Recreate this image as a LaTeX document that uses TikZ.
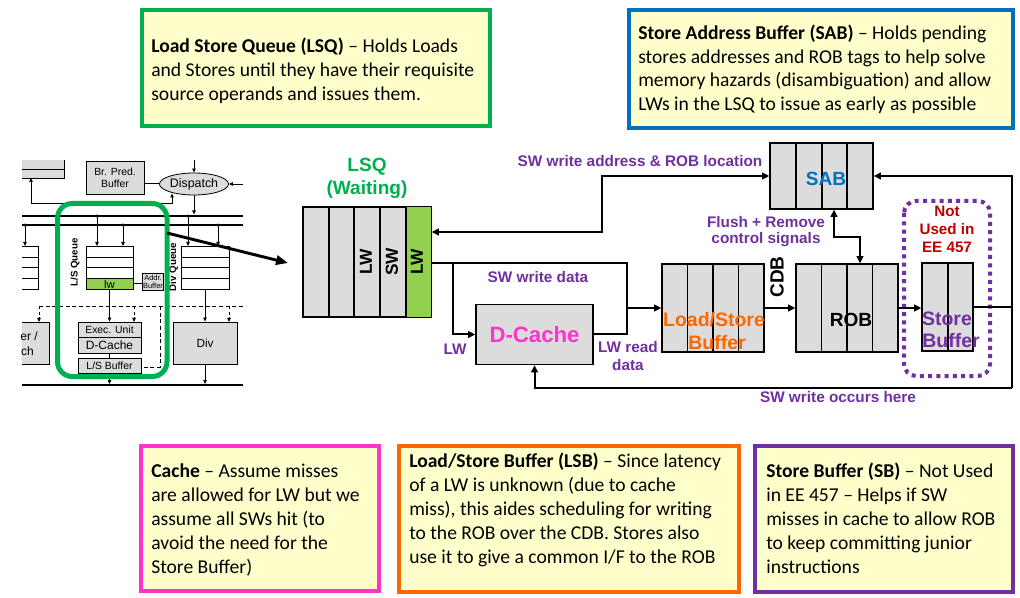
\documentclass[tikz,border=0pt]{standalone}
\usepackage{fontspec}
\setmainfont{Carlito}
\newfontfamily\arial{Liberation Sans}
\usetikzlibrary{arrows.meta,calc,shapes.geometric}
\definecolor{cgreen}{HTML}{00B050}
\definecolor{cblue}{HTML}{0070C0}
\definecolor{cpink}{HTML}{FF33CC}
\definecolor{corange}{HTML}{FF6600}
\definecolor{cpurple}{HTML}{7030A0}
\definecolor{cyel}{HTML}{FFFFCC}
\definecolor{cgray}{HTML}{DCDCDC}
\definecolor{lwgreen}{HTML}{92D050}
\definecolor{cred}{HTML}{C00000}
\begin{document}
\begin{tikzpicture}[x=0.75pt,y=-0.75pt,
 callout/.style={line width=3pt, fill=cyel},
 ctext/.style={anchor=base west, inner sep=0pt, font=\fontsize{14.7}{18}\selectfont},
 blk/.style={draw, line width=0.9pt, fill=cgray, inner sep=0pt},
 divl/.style={line width=0.9pt},
 wire/.style={line width=1.5pt},
 arr/.style={wire, -{Triangle[length=5.5pt,width=5pt]}},
 darr/.style={wire, {Triangle[length=5.5pt,width=5pt]}-{Triangle[length=5.5pt,width=5pt]}},
 lbl/.style={font=\arial\bfseries\fontsize{11.5}{13}\selectfont, text=cpurple, inner sep=0pt},
 big/.style={font=\arial\bfseries\fontsize{14.3}{16}\selectfont, inner sep=0pt},
 reg/.style={font=\arial\bfseries\fontsize{14.6}{17}\selectfont, inner sep=0pt},
 mline/.style={line width=0.6pt},
 mbus/.style={line width=1.6pt},
 marr/.style={mline, -{Triangle[length=3pt,width=2.6pt]}},
 mdarr/.style={mline, {Triangle[length=3pt,width=2.6pt]}-{Triangle[length=3pt,width=2.6pt]}},
 mblk/.style={draw, line width=0.6pt, fill=cgray, inner sep=0pt},
 mq/.style={draw, line width=0.6pt, fill=white, inner sep=0pt},
 mtxt/.style={font=\arial\fontsize{7.8}{9}\selectfont, inner sep=0pt},
]
\useasboundingbox (0,0) rectangle (1020,598);
\fill[white] (0,0) rectangle (1020,598);

% ---------- callouts ----------
\draw[callout, draw=cgreen] (142,10) rectangle (490,126);
\foreach \t [count=\i from 0] in {{\textbf{Load Store Queue (LSQ)} -- Holds Loads},{and Stores until they have their requisite},{source operands and issues them.}}
  \node[ctext] (lsqt\i) at (151,{53+24*\i}) {\t};

\draw[callout, draw=cblue] (629,10) rectangle (1013,128);
\foreach \t [count=\i from 0] in {{\textbf{Store Address Buffer (SAB)} -- Holds pending},{stores addresses and ROB tags to help solve},{memory hazards (disambiguation) and allow},{LWs in the LSQ to issue as early as possible}}
  \node[ctext] (sabt\i) at (638,{40+23.5*\i}) {\t};

\draw[callout, draw=cpink] (141,446) rectangle (379,591);
\foreach \t [count=\i from 0] in {{\textbf{Cache} -- Assume misses},{are allowed for LW but we},{assume all SWs hit (to},{avoid the need for the},{Store Buffer)}}
  \node[ctext] (cat\i) at (151,{477+24*\i}) {\t};

\draw[callout, draw=corange] (399,446) rectangle (739,592);
\foreach \t [count=\i from 0] in {{\textbf{Load/Store Buffer (LSB)} -- Since latency},{of a LW is unknown (due to cache},{miss), this aides scheduling for writing},{to the ROB over the CDB. Stores also},{use it to give a common I/F to the ROB}}
  \node[ctext] (lsbt\i) at (409,{467+24*\i}) {\t};

\draw[callout, draw=cpurple] (755,446) rectangle (1013,592);
\foreach \t [count=\i from 0] in {{\textbf{Store Buffer (SB)} -- Not Used},{in EE 457 -- Helps if SW},{misses in cache to allow ROB},{to keep committing junior},{instructions}}
  \node[ctext] (sbt\i) at (766,{477+24*\i}) {\t};

% ---------- mini diagram ----------
\fill[cgray] (22,160) rectangle (64,178);
\draw[mline] (22,178) -- (64,178) -- (64,160);
\draw[mline] (22,169) -- (64,169);
\coordinate (tlb) at (31,178);
\node[mblk, minimum width=58*0.75pt, minimum height=33*0.75pt, align=center, mtxt] (brp) at (115,177.5) {Br. Pred.\\Buffer};
\node[draw, ellipse, fill=cgray, line width=0.6pt, minimum width=69*0.75pt, minimum height=22*0.75pt, inner sep=0pt, font=\arial\fontsize{9.3}{10}\selectfont] (disp) at (194,184) {Dispatch};
\draw[mdarr] (tlb) |- (172,203) -- (172,193.5);
\draw[mline] (brp.east |- 0,183) -- (disp.west |- 0,183);
\coordinate (dtop) at (194,160);
\coordinate (dright) at (243,184);
\draw[marr] (dtop) -- (disp.north);
\draw[marr] (dright) -- (disp.east);
\draw[marr] (disp.south) -- (194,214.5);
\draw[mbus] (22,216) -- (243,216);
\draw[mbus] (22,225) -- (243,225);
\foreach \x/\y in {25/225, 97/216, 123/225, 188/216, 218/225} {
  \fill (\x,\y) circle (1.3pt);
  \draw[marr] (\x,\y) -- (\x,246);
}
% left partial queue
\fill[white] (22,246) rectangle (38,289);
\draw[mline] (22,246) -- (38,246) -- (38,289) -- (22,289);
\foreach \y in {257,267,278} \draw[mline] (22,\y) -- (38,\y);
% L/S queue
\node[mq, minimum width=47*0.75pt, minimum height=43*0.75pt] (lsqm) at (109.5,267.5) {};
\fill[lwgreen] (86,278) rectangle (133,289);
\draw[mline] (86,278) rectangle (133,289);
\foreach \y in {257,267} \draw[mline] (86,\y) -- (133,\y);
\node[mtxt, font=\arial\fontsize{8.5}{9}\selectfont] (lwm) at (109.5,284) {lw};
\node[mblk, minimum width=21*0.75pt, minimum height=17*0.75pt] (addr) at (152.5,281.5) {};
\node[inner sep=0pt, font=\arial\fontsize{5.6}{6}\selectfont] (addrt1) at (153,277.5) {Addr.};
\node[inner sep=0pt, font=\arial\fontsize{5.6}{6}\selectfont] (addrt2) at (153,286) {Buffer};
\draw[mline] (133,283) -- (addr.west |- 0,283);
% Div queue
\node[mq, minimum width=48*0.75pt, minimum height=43*0.75pt] (dq) at (205,267.5) {};
\foreach \y in {257,267,278} \draw[mline] (181,\y) -- (229,\y);
\node[rotate=90, inner sep=0pt, font=\arial\bfseries\fontsize{7.3}{8}\selectfont] (lsqlab) at (75,262.5) {L/S Queue};
\node[rotate=90, inner sep=0pt, font=\arial\bfseries\fontsize{7.3}{8}\selectfont] (dqlab) at (173.5,267) {Div Queue};
% dashed control
\draw[mline, dash pattern=on 3pt off 2pt] (39,306) -- (243,306);
\foreach \x in {39,134,229} \draw[marr, dash pattern=on 2.5pt off 1.8pt] (\x,306) -- (\x,322);
\draw[mline, dash pattern=on 3pt off 2pt] (160,306) |- (141,367);
% left partial unit
\fill[cgray] (22,322) rectangle (49,364);
\draw[mline] (22,322) -- (49,322) -- (49,364) -- (22,364);
\node[anchor=east, inner sep=0pt, font=\arial\fontsize{9}{10}\selectfont] (lpt1) at (38,336) {er /};
\node[anchor=east, inner sep=0pt, font=\arial\fontsize{9}{10}\selectfont] (lpt2) at (34,351) {ch};
% exec / dcache / ls buffer
\node[mblk, minimum width=63*0.75pt, minimum height=15*0.75pt, mtxt] (exec) at (109.5,329.5) {Exec. Unit};
\node[mblk, minimum width=63*0.75pt, minimum height=16*0.75pt, font=\arial\fontsize{9}{10}\selectfont] (mdc) at (109.5,345) {D-Cache};
\node[mblk, minimum width=63*0.75pt, minimum height=15*0.75pt, mtxt] (lsbm) at (109.5,365.5) {L/S Buffer};
\draw[mline] (mdc.south) -- (lsbm.north);
\draw[marr] (lsqm.south) -- (exec.north);
\node[mblk, minimum width=64*0.75pt, minimum height=42*0.75pt, font=\arial\fontsize{8.8}{10}\selectfont] (div) at (205,343) {Div};
\draw[marr] (dq.south) -- (div.north);
\draw[mbus] (22,385) -- (243,385);
\draw[marr] (lsbm.south) -- (109.5,384);
\draw[marr] (div.south) -- (205,384);
% green highlight
\draw[cgreen, line width=3.75pt, rounded corners=11pt] (57.5,203.5) rectangle (167,376.5);
\coordinate (bigs) at (167,233);
\coordinate (bige) at (288,263);
\draw[line width=2.2pt, -{Triangle[length=9pt,width=7pt]}] (bigs) -- (bige);

% ---------- main diagram ----------
\node[big, text=cgreen] (lsqtitle1) at (367,167) {LSQ};
\node[big, text=cgreen] (lsqtitle2) at (367,190) {(Waiting)};
\node[blk, minimum width=128*0.75pt, minimum height=110*0.75pt] (lsq) at (367,262) {};
\fill[lwgreen] (406,207) rectangle (431,317);
\draw[divl] (lsq.north west) rectangle (lsq.south east);
\foreach \x in {329,354,380,406} \draw[divl] (\x,207) -- (\x,317);
\node[rotate=90, font=\arial\bfseries\fontsize{13}{14}\selectfont, inner sep=0pt] (q3) at (366,262) {LW};
\node[rotate=90, font=\arial\bfseries\fontsize{13}{14}\selectfont, inner sep=0pt] (q4) at (392,262) {SW};
\node[rotate=90, font=\arial\bfseries\fontsize{13}{14}\selectfont, inner sep=0pt] (q5) at (417,262) {LW};

\node[blk, minimum width=103*0.75pt, minimum height=66*0.75pt] (sab) at (821.5,176) {};
\foreach \x in {796,822,847} \draw[divl] (\x,143) -- (\x,209);
\node[big, text=cblue] (sablbl) at (826,179) {SAB};

\node[blk, minimum width=117*0.75pt, minimum height=60*0.75pt, font=\arial\bfseries\fontsize{16.6}{18}\selectfont, text=cpink] (dcache) at (534.5,334.5) {D-Cache};

\node[blk, minimum width=102*0.75pt, minimum height=88*0.75pt] (lsb) at (713,308) {};
\foreach \x in {687.5,713,738.5} \draw[divl] (\x,264) -- (\x,352);
\node[reg, text=corange] (lsbl1) at (714,320) {Load/Store};
\node[reg, text=corange] (lsbl2) at (717,343) {Buffer};

\node[blk, minimum width=102*0.75pt, minimum height=88*0.75pt] (rob) at (847,308) {};
\foreach \x in {821.5,847,872.5} \draw[divl] (\x,264) -- (\x,352);
\node[big] (robl) at (851,320) {ROB};

\node[blk, minimum width=51*0.75pt, minimum height=88*0.75pt] (sbuf) at (947.5,307) {};
\draw[divl] (948,263) -- (948,351);
\node[reg, text=cpurple] (sbl1) at (947,318.5) {Store};
\node[reg, text=cpurple] (sbl2) at (951,341) {Buffer};

\draw[cpurple, line width=3pt, dash pattern=on 3pt off 3.2pt, rounded corners=9pt] (904,201) rectangle (990,376);
\node[font=\arial\bfseries\fontsize{11.4}{13}\selectfont, text=cred, inner sep=0pt] (nu1) at (947,211) {Not};
\node[font=\arial\bfseries\fontsize{11.4}{13}\selectfont, text=cred, inner sep=0pt] (nu2) at (947,229) {Used in};
\node[font=\arial\bfseries\fontsize{11.4}{13}\selectfont, text=cred, inner sep=0pt] (nu3) at (947,247.5) {EE 457};

% connectors
\draw[darr] (lsq.east |- 0,232) -| (602,176) -- (sab.west);
\draw[wire] (lsq.east |- 0,263) -| (627,308);
\draw[arr] (627,308) -- (lsb.west);
\draw[arr] (453,263) |- (dcache.west);
\draw[wire] (dcache.east) -| (627,308);
\draw[arr] (lsb.east) -- (rob.west);
\draw[arr] (rob.east) -- (sbuf.west |- rob.east);
\draw[wire] (sbuf.east) -- (1012,307);
\coordinate (corner) at (1012,388);
\draw[arr] (corner) |- (sab.east);
\draw[arr] (corner) -| (dcache.south);
\draw[darr] (sab.south -| 834,0) |- (860,237) -- (rob.north -| 860,0);

% labels
\node[lbl] (l1) at (640,161) {SW write address \& ROB location};
\node[lbl] (l2) at (766,222) {Flush + Remove};
\node[lbl] (l3) at (766,240) {control signals};
\node[lbl] (l4) at (538,277) {SW write data};
\node[lbl] (l5) at (455,349) {LW};
\node[lbl] (l6) at (628,347) {LW read};
\node[lbl] (l7) at (628,365) {data};
\node[lbl] (l8) at (838,397) {SW write occurs here};
\node[big, rotate=90] (cdb) at (777,277) {CDB};
\end{tikzpicture}
\end{document}
